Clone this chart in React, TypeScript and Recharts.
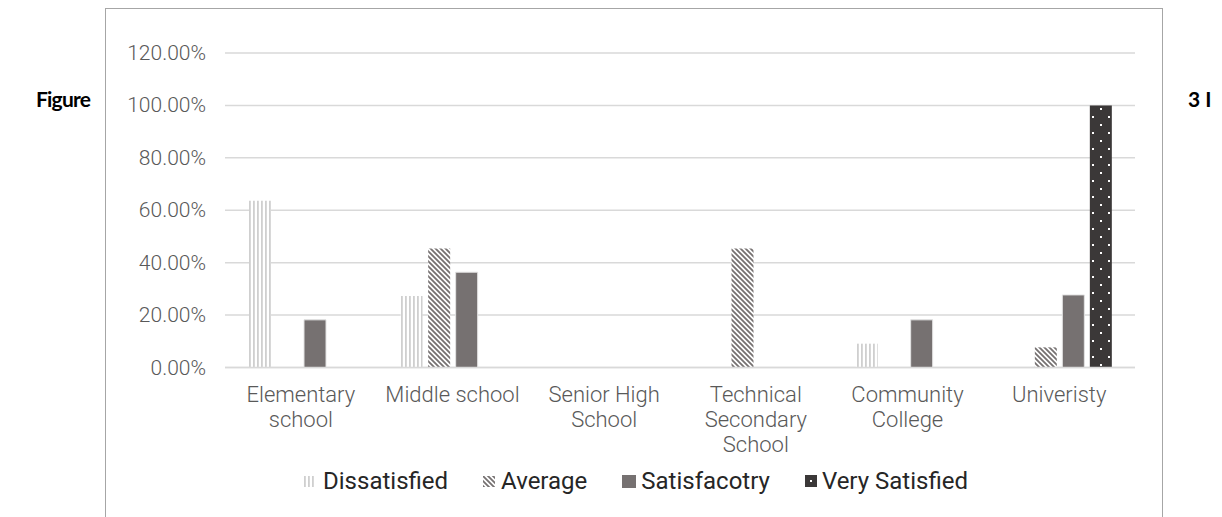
import React from 'react';
import { BarChart, Bar, XAxis, YAxis, CartesianGrid } from 'recharts';

const categories = [
  'Elementary school',
  'Middle school',
  'Senior High School',
  'Technical Secondary School',
  'Community College',
  'Univeristy',
];
const categoryLines: Record<string, string[]> = {
  'Elementary school': ['Elementary', 'school'],
  'Middle school': ['Middle school'],
  'Senior High School': ['Senior High', 'School'],
  'Technical Secondary School': ['Technical', 'Secondary', 'School'],
  'Community College': ['Community', 'College'],
  Univeristy: ['Univeristy'],
};
const dissatisfied = [0.6364, 0.2727, 0, 0, 0.0909, 0];
const average = [0, 0.4545, 0, 0.4545, 0, 0.0769];
const satisfactory = [0.1818, 0.3636, 0, 0, 0.1818, 0.2769];
const verySatisfied = [0, 0, 0, 0, 0, 1];
const yTicks = [0, 0.2, 0.4, 0.6, 0.8, 1.0, 1.2];

const data = categories.map((name, i) => ({
  name,
  dissatisfied: dissatisfied[i],
  average: average[i],
  satisfactory: satisfactory[i],
  verySatisfied: verySatisfied[i],
}));

const legendItems = [
  { label: 'Dissatisfied', fill: 'url(#pDiss)', w: 10, h: 11, gap: 9 },
  { label: 'Average', fill: 'url(#pAvg)', w: 12, h: 11, gap: 6 },
  { label: 'Satisfacotry', fill: '#767171', w: 14, h: 13, gap: 5 },
  { label: 'Very Satisfied', fill: '#3b3838', w: 12, h: 12, gap: 5, dot: true },
];

const font = 'Roboto, "Noto Sans", sans-serif';

function YTick({ x, y, payload }: any) {
  return (
    <text
      x={x - 19}
      y={y}
      dy={7}
      textAnchor="end"
      fill="#595959"
      fontSize={21}
      fontWeight={300}
      fontFamily={font}
    >
      {(payload.value * 100).toFixed(2) + '%'}
    </text>
  );
}

function XTick({ x, y, payload }: any) {
  const lines = categoryLines[payload.value] || [payload.value];
  return (
    <text
      x={x}
      y={y + 34}
      textAnchor="middle"
      fill="#595959"
      fontSize={22}
      fontWeight={300}
      fontFamily={font}
    >
      {lines.map((l, i) => (
        <tspan key={i} x={x} dy={i === 0 ? 0 : 25}>
          {l}
        </tspan>
      ))}
    </text>
  );
}

export default function App() {
  return (
    <div
      style={{
        position: 'fixed',
        left: 0,
        top: 0,
        width: 1222,
        height: 517,
        background: '#fff',
        overflow: 'hidden',
        fontFamily: font,
      }}
    >
      <svg width={1222} height={517} style={{ position: 'absolute', left: 0, top: 0 }}>
        <defs>
          <pattern id="pDiss" width={4} height={4} patternUnits="userSpaceOnUse">
            <rect x={0} y={0} width={4} height={4} fill="#fff" />
            <rect x={0} y={0} width={1.8} height={4} fill="#cfcfcf" />
          </pattern>
          <pattern id="pAvg" width={5} height={5} patternUnits="userSpaceOnUse">
            <rect x={0} y={0} width={5} height={5} fill="#fff" />
            <path
              d="M0,0 L5,5 M-1,4 L1,6 M4,-1 L6,1"
              stroke="#767171"
              strokeWidth={1.8}
            />
          </pattern>
          <pattern id="pVery" width={16} height={16} patternUnits="userSpaceOnUse">
            <rect x={0} y={0} width={16} height={16} fill="#3b3838" />
            <rect x={3} y={4} width={2} height={2} fill="#fff" />
            <rect x={11} y={12} width={2} height={2} fill="#fff" />
          </pattern>
        </defs>
        <text
          x={36}
          y={107}
          fontFamily="Lato, sans-serif"
          fontWeight={700}
          fontSize={21}
          letterSpacing={-0.8}
          fill="#000"
        >
          Figure
        </text>
        <text
          x={1188}
          y={107}
          fontFamily="Lato, sans-serif"
          fontWeight={700}
          fontSize={21}
          fill="#000"
        >
          3 I
        </text>
        <rect x={105.5} y={8.5} width={1057} height={530} fill="none" stroke="#a6a6a6" />
      </svg>

      <div style={{ position: 'absolute', left: 105, top: 8 }}>
        <BarChart
          width={1058}
          height={509}
          data={data}
          margin={{ top: 45, right: 28, bottom: 0, left: 0 }}
          barSize={22}
          barGap={5.5}
        >
          <CartesianGrid vertical={false} stroke="#d9d9d9" strokeWidth={1.5} />
          <XAxis
            dataKey="name"
            height={149.5}
            interval={0}
            tickLine={false}
            tickSize={0}
            tickMargin={0}
            axisLine={{ stroke: '#d9d9d9', strokeWidth: 1.5 }}
            tick={<XTick />}
          />
          <YAxis
            width={120}
            domain={[0, 1.2]}
            ticks={yTicks}
            axisLine={false}
            tickLine={false}
            tickSize={0}
            tickMargin={0}
            tick={<YTick />}
          />
          <Bar dataKey="dissatisfied" fill="url(#pDiss)" isAnimationActive={false} />
          <Bar dataKey="average" fill="url(#pAvg)" isAnimationActive={false} />
          <Bar
            dataKey="satisfactory"
            fill="#767171"
            stroke="#e3e3e3"
            strokeWidth={1}
            isAnimationActive={false}
          />
          <Bar dataKey="verySatisfied" fill="url(#pVery)" isAnimationActive={false} />
        </BarChart>
      </div>

      <div
        style={{
          position: 'absolute',
          left: 105,
          top: 466,
          width: 1062,
          display: 'flex',
          justifyContent: 'center',
          alignItems: 'center',
          gap: 35,
          fontSize: 24,
          color: '#262626',
          lineHeight: '30px',
        }}
      >
        {legendItems.map((it) => (
          <div key={it.label} style={{ display: 'flex', alignItems: 'center', gap: it.gap }}>
            <svg width={it.w} height={it.h}>
              <rect x={0} y={0} width={it.w} height={it.h} fill={it.fill} />
              {it.dot && <rect x={5} y={5} width={2} height={2} fill="#fff" />}
            </svg>
            <span>{it.label}</span>
          </div>
        ))}
      </div>
    </div>
  );
}
